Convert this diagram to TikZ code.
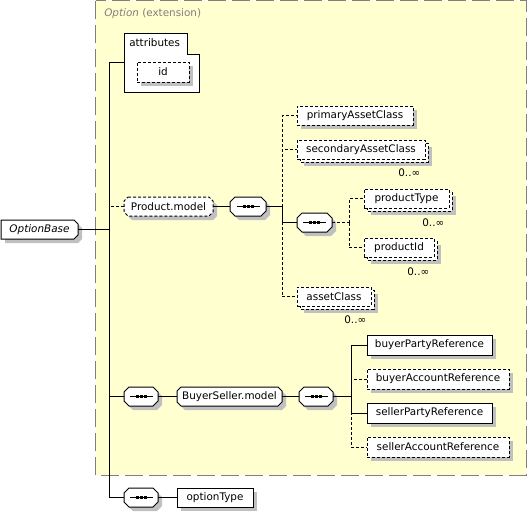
\documentclass[tikz,border=0pt]{standalone}
\usepackage{fontspec}
\setmainfont{DejaVu Sans}
\definecolor{extfill}{RGB}{255,255,208}
\definecolor{extline}{RGB}{128,128,128}
\definecolor{shc}{RGB}{192,192,192}
\tikzset{
  x=0.75pt, y=-0.75pt,
  txt/.style={font=\fontsize{7.8pt}{9pt}\selectfont, text=black, inner sep=0pt},
  el/.style={txt, draw=black, fill=white, line width=0.75pt, rectangle},
  bd/.style={draw=black, line width=0.75pt},
  dsh/.style={dash pattern=on 2.25pt off 1.5pt},
  conn/.style={draw=black, line width=0.75pt},
  shadowfill/.style={fill=shc},
  mult/.style={txt, anchor=east},
  extbox/.style={draw=extline, fill=extfill, line width=0.75pt, dash pattern=on 13.5pt off 4.5pt},
}
% name, x1, y1, x2, y2, style, text, bevel
\newcommand\octbox[8]{%
  \fill[shadowfill,shift={(4,4)}] (#2+#8,#3) -- (#4-#8,#3) -- (#4,#3+#8) -- (#4,#5-#8) -- (#4-#8,#5) -- (#2+#8,#5) -- (#2,#5-#8) -- (#2,#3+#8) -- cycle;
  \path[bd,fill=white,#6] (#2+#8,#3) -- (#4-#8,#3) -- (#4,#3+#8) -- (#4,#5-#8) -- (#4-#8,#5) -- (#2+#8,#5) -- (#2,#5-#8) -- (#2,#3+#8) -- cycle;
  \node[txt,minimum width={(#4-#2)*0.75pt},minimum height={(#5-#3)*0.75pt}] (#1) at ({(#2+#4)/2},{(#3+#5)/2}) {#7};
}
\newcommand\seqbox[5]{%
  \octbox{#1}{#2}{#3}{#4}{#5}{}{}{5}
  \draw[bd] (#1.center) ++(-11.5,0) -- ++(23,0);
  \fill (#1.center) ++(-5.5,-1.5) rectangle ++(3,3);
  \fill (#1.center) ++(-1.5,-1.5) rectangle ++(3,3);
  \fill (#1.center) ++(2.5,-1.5) rectangle ++(3,3);
}
\newcommand\elbox[7]{%
  \fill[shadowfill] (#2+4,#3+4) rectangle (#4+4,#5+4);
  \node[el,#6,minimum width={(#4-#2)*0.75pt},minimum height={(#5-#3)*0.75pt}] (#1) at ({(#2+#4)/2},{(#3+#5)/2}) {#7};
}
\newcommand\manybox[7]{%
  \fill[shadowfill] (#2+7,#3+7) rectangle (#4+7,#5+7);
  \path[bd,fill=white,#6] (#2+3,#3+3) rectangle (#4+3,#5+3);
  \node[el,#6,minimum width={(#4-#2)*0.75pt},minimum height={(#5-#3)*0.75pt}] (#1) at ({(#2+#4)/2},{(#3+#5)/2}) {#7};
}
\begin{document}
\begin{tikzpicture}
\useasboundingbox (0,0) rectangle (527,515);
% extension area
\path[extbox] (95.5,0.5) rectangle (526,475);
\node[txt, anchor=west, text=extline] (title) at (104,14) {\textit{Option} (extension)};

% OptionBase
\fill[shadowfill,shift={(4,4)}] (1,220) -- (74,220) -- (78,224) -- (78,235) -- (74,239) -- (1,239) -- cycle;
\path[bd,fill=white] (1,220) -- (74,220) -- (78,224) -- (78,235) -- (74,239) -- (1,239) -- cycle;
\node[txt,minimum width=57.75pt,minimum height=14.25pt] (ob) at (39.5,229.5) {\itshape OptionBase};

% attributes
\path[bd,fill=white] (124,33) -- (187,33) -- (187,54) -- (199,54) -- (199,92) -- (124,92) -- cycle;
\node[txt,anchor=west] (attr) at (129,43) {attributes};
\coordinate (aw) at (124,62);
\elbox{id}{137}{62}{189}{82}{dsh}{id}

% Product.model branch
\octbox{pm}{124}{197}{213}{216}{dsh}{Product.model}{4}
\seqbox{s1}{230}{197}{266}{216}
\elbox{pac}{297}{106}{413}{125}{dsh}{primaryAssetClass}
\manybox{sac}{297}{140}{425}{159}{dsh}{secondaryAssetClass}
\seqbox{s2}{297}{213}{332}{232}
\manybox{pt}{364}{189}{449}{208}{dsh}{productType}
\manybox{pid}{364}{238}{434}{257}{dsh}{productId}
\manybox{ac}{297}{287}{371}{306}{dsh}{assetClass}
\node[mult] (m1) at ([xshift=-3.75pt,yshift=-10pt]sac.south east) {0..∞};
\node[mult] (m2) at ([xshift=-3.75pt,yshift=-10.5pt]pt.south east) {0..∞};
\node[mult] (m3) at ([xshift=-3.75pt,yshift=-10.5pt]pid.south east) {0..∞};
\node[mult] (m4) at ([xshift=-3.75pt,yshift=-10pt]ac.south east) {0..∞};

% BuyerSeller branch
\seqbox{s3}{124}{387}{158}{406}
\octbox{bs}{177}{387}{282}{406}{}{BuyerSeller.model}{4}
\seqbox{s4}{299}{387}{333}{406}
\elbox{bpr}{367}{335}{492}{355}{}{buyerPartyReference}
\elbox{bar}{367}{369}{509}{389}{dsh}{buyerAccountReference}
\elbox{spr}{367}{403}{492}{423}{}{sellerPartyReference}
\elbox{sar}{367}{437}{509}{457}{dsh}{sellerAccountReference}

% optionType
\seqbox{s5}{124}{488}{158}{507}
\elbox{ot}{177}{488}{253}{507}{}{optionType}

% connectors
\coordinate (j0) at (109,229.5);
\draw[conn] (ob.east) -- (j0);
\draw[conn] (aw) -- (aw -| j0) -- (j0 |- s5.west) -- (s5.west);
\draw[conn,dsh] (pm.west) -- (pm.west -| j0);
\draw[conn] (s3.west) -- (s3.west -| j0);
\draw[conn] (pm.east) -- (s1.west);
\coordinate (j1) at ([xshift=12pt]s1.east);
\draw[conn] (s1.east) -- (j1);
\draw[conn,dsh] (j1) |- (pac.west);
\draw[conn,dsh] (j1) |- (sac.west);
\draw[conn,dsh] (j1) |- (ac.west);
\draw[conn] (j1) |- (s2.west);
\coordinate (j2) at ([xshift=12.75pt]s2.east);
\draw[conn,dsh] (s2.east) -- (j2);
\draw[conn,dsh] (j2) |- (pt.west);
\draw[conn,dsh] (j2) |- (pid.west);
\draw[conn] (s3.east) -- (bs.west);
\draw[conn] (bs.east) -- (s4.west);
\coordinate (j4) at ([xshift=13.5pt]s4.east);
\draw[conn] (s4.east) -- (j4);
\draw[conn,dsh] (j4) |- (bar.west);
\draw[conn,dsh] (j4) |- (sar.west);
\draw[conn] (j4) |- (bpr.west);
\draw[conn] (j4) |- (spr.west);
\draw[conn] (s5.east) -- (ot.west);
\end{tikzpicture}
\end{document}
